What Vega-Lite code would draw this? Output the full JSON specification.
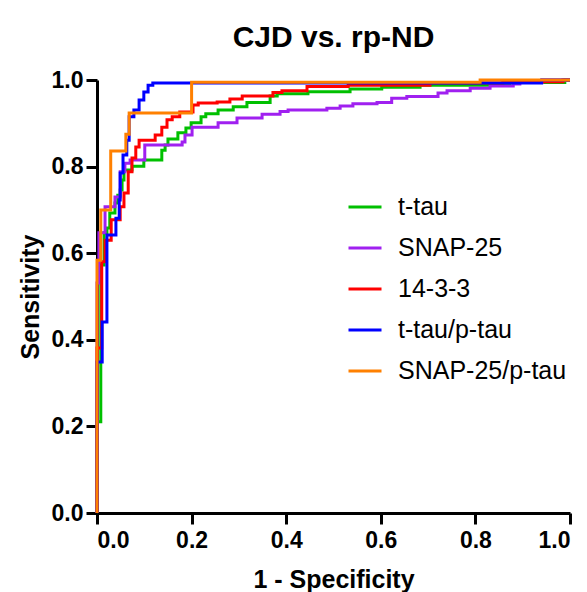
{
  "$schema": "https://vega.github.io/schema/vega-lite/v6.json",
  "autosize": "none",
  "padding": {"left": 97, "top": 80, "right": 17, "bottom": 79},
  "width": 473,
  "height": 433,
  "background": "white",
  "title": {"text": "CJD vs. rp-ND", "fontSize": 30, "font": "Liberation Sans", "fontWeight": "bold", "color": "black", "offset": 16},
  "config": {
    "view": {"stroke": null},
    "axis": {"domainColor": "black", "domainWidth": 3, "tickColor": "black", "tickWidth": 3, "tickSize": 11, "grid": false,
      "labelFont": "Liberation Sans", "labelFontWeight": "bold", "labelFontSize": 23, "labelColor": "black",
      "titleFont": "Liberation Sans", "titleFontWeight": "bold", "titleFontSize": 25, "titleColor": "black"},
    "legend": {"labelFont": "Liberation Sans", "labelFontSize": 25, "labelColor": "black", "labelLimit": 0}
  },
  "data": {"values": [
    {"s": "t-tau", "x": 0, "y": 0}, {"s": "t-tau", "x": 0, "y": 0.211}, {"s": "t-tau", "x": 0.008, "y": 0.573}, {"s": "t-tau", "x": 0.015, "y": 0.647}, {"s": "t-tau", "x": 0.021, "y": 0.658}, {"s": "t-tau", "x": 0.027, "y": 0.693}, {"s": "t-tau", "x": 0.038, "y": 0.716}, {"s": "t-tau", "x": 0.044, "y": 0.734}, {"s": "t-tau", "x": 0.049, "y": 0.746}, {"s": "t-tau", "x": 0.053, "y": 0.769}, {"s": "t-tau", "x": 0.057, "y": 0.792}, {"s": "t-tau", "x": 0.074, "y": 0.801}, {"s": "t-tau", "x": 0.099, "y": 0.815}, {"s": "t-tau", "x": 0.137, "y": 0.838}, {"s": "t-tau", "x": 0.144, "y": 0.85}, {"s": "t-tau", "x": 0.15, "y": 0.864}, {"s": "t-tau", "x": 0.171, "y": 0.878}, {"s": "t-tau", "x": 0.188, "y": 0.889}, {"s": "t-tau", "x": 0.199, "y": 0.901}, {"s": "t-tau", "x": 0.22, "y": 0.915}, {"s": "t-tau", "x": 0.23, "y": 0.922}, {"s": "t-tau", "x": 0.256, "y": 0.931}, {"s": "t-tau", "x": 0.288, "y": 0.938}, {"s": "t-tau", "x": 0.317, "y": 0.948}, {"s": "t-tau", "x": 0.366, "y": 0.963}, {"s": "t-tau", "x": 0.381, "y": 0.968}, {"s": "t-tau", "x": 0.446, "y": 0.973}, {"s": "t-tau", "x": 0.535, "y": 0.979}, {"s": "t-tau", "x": 0.602, "y": 0.983}, {"s": "t-tau", "x": 0.683, "y": 0.988}, {"s": "t-tau", "x": 0.873, "y": 0.994}, {"s": "t-tau", "x": 0.989, "y": 1.0}, {"s": "t-tau", "x": 1, "y": 1},
    {"s": "SNAP-25", "x": 0, "y": 0}, {"s": "SNAP-25", "x": 0, "y": 0.531}, {"s": "SNAP-25", "x": 0.004, "y": 0.647}, {"s": "SNAP-25", "x": 0.017, "y": 0.707}, {"s": "SNAP-25", "x": 0.038, "y": 0.73}, {"s": "SNAP-25", "x": 0.049, "y": 0.788}, {"s": "SNAP-25", "x": 0.059, "y": 0.808}, {"s": "SNAP-25", "x": 0.07, "y": 0.815}, {"s": "SNAP-25", "x": 0.101, "y": 0.85}, {"s": "SNAP-25", "x": 0.18, "y": 0.857}, {"s": "SNAP-25", "x": 0.186, "y": 0.873}, {"s": "SNAP-25", "x": 0.201, "y": 0.891}, {"s": "SNAP-25", "x": 0.256, "y": 0.901}, {"s": "SNAP-25", "x": 0.296, "y": 0.912}, {"s": "SNAP-25", "x": 0.349, "y": 0.921}, {"s": "SNAP-25", "x": 0.387, "y": 0.927}, {"s": "SNAP-25", "x": 0.404, "y": 0.931}, {"s": "SNAP-25", "x": 0.486, "y": 0.935}, {"s": "SNAP-25", "x": 0.514, "y": 0.94}, {"s": "SNAP-25", "x": 0.541, "y": 0.945}, {"s": "SNAP-25", "x": 0.592, "y": 0.948}, {"s": "SNAP-25", "x": 0.623, "y": 0.958}, {"s": "SNAP-25", "x": 0.655, "y": 0.962}, {"s": "SNAP-25", "x": 0.721, "y": 0.97}, {"s": "SNAP-25", "x": 0.74, "y": 0.975}, {"s": "SNAP-25", "x": 0.789, "y": 0.981}, {"s": "SNAP-25", "x": 0.831, "y": 0.986}, {"s": "SNAP-25", "x": 0.88, "y": 0.991}, {"s": "SNAP-25", "x": 0.894, "y": 0.994}, {"s": "SNAP-25", "x": 0.941, "y": 1.0}, {"s": "SNAP-25", "x": 1, "y": 1},
    {"s": "14-3-3", "x": 0, "y": 0}, {"s": "14-3-3", "x": 0, "y": 0.381}, {"s": "14-3-3", "x": 0.01, "y": 0.58}, {"s": "14-3-3", "x": 0.017, "y": 0.63}, {"s": "14-3-3", "x": 0.03, "y": 0.677}, {"s": "14-3-3", "x": 0.049, "y": 0.707}, {"s": "14-3-3", "x": 0.057, "y": 0.739}, {"s": "14-3-3", "x": 0.066, "y": 0.788}, {"s": "14-3-3", "x": 0.074, "y": 0.82}, {"s": "14-3-3", "x": 0.082, "y": 0.845}, {"s": "14-3-3", "x": 0.089, "y": 0.861}, {"s": "14-3-3", "x": 0.123, "y": 0.873}, {"s": "14-3-3", "x": 0.137, "y": 0.891}, {"s": "14-3-3", "x": 0.148, "y": 0.908}, {"s": "14-3-3", "x": 0.159, "y": 0.915}, {"s": "14-3-3", "x": 0.175, "y": 0.926}, {"s": "14-3-3", "x": 0.203, "y": 0.942}, {"s": "14-3-3", "x": 0.214, "y": 0.947}, {"s": "14-3-3", "x": 0.254, "y": 0.949}, {"s": "14-3-3", "x": 0.281, "y": 0.956}, {"s": "14-3-3", "x": 0.307, "y": 0.963}, {"s": "14-3-3", "x": 0.372, "y": 0.971}, {"s": "14-3-3", "x": 0.391, "y": 0.975}, {"s": "14-3-3", "x": 0.444, "y": 0.985}, {"s": "14-3-3", "x": 0.531, "y": 0.988}, {"s": "14-3-3", "x": 0.704, "y": 0.993}, {"s": "14-3-3", "x": 0.858, "y": 0.996}, {"s": "14-3-3", "x": 0.985, "y": 1.0}, {"s": "14-3-3", "x": 1, "y": 1},
    {"s": "t-tau/p-tau", "x": 0, "y": 0}, {"s": "t-tau/p-tau", "x": 0, "y": 0.349}, {"s": "t-tau/p-tau", "x": 0.011, "y": 0.441}, {"s": "t-tau/p-tau", "x": 0.021, "y": 0.642}, {"s": "t-tau/p-tau", "x": 0.04, "y": 0.681}, {"s": "t-tau/p-tau", "x": 0.047, "y": 0.723}, {"s": "t-tau/p-tau", "x": 0.049, "y": 0.785}, {"s": "t-tau/p-tau", "x": 0.055, "y": 0.827}, {"s": "t-tau/p-tau", "x": 0.063, "y": 0.861}, {"s": "t-tau/p-tau", "x": 0.068, "y": 0.915}, {"s": "t-tau/p-tau", "x": 0.078, "y": 0.931}, {"s": "t-tau/p-tau", "x": 0.089, "y": 0.954}, {"s": "t-tau/p-tau", "x": 0.099, "y": 0.972}, {"s": "t-tau/p-tau", "x": 0.108, "y": 0.988}, {"s": "t-tau/p-tau", "x": 0.118, "y": 0.993}, {"s": "t-tau/p-tau", "x": 0.94, "y": 1.0}, {"s": "t-tau/p-tau", "x": 1, "y": 1},
    {"s": "SNAP-25/p-tau", "x": 0, "y": 0}, {"s": "SNAP-25/p-tau", "x": 0, "y": 0.584}, {"s": "SNAP-25/p-tau", "x": 0.008, "y": 0.7}, {"s": "SNAP-25/p-tau", "x": 0.029, "y": 0.836}, {"s": "SNAP-25/p-tau", "x": 0.061, "y": 0.875}, {"s": "SNAP-25/p-tau", "x": 0.068, "y": 0.924}, {"s": "SNAP-25/p-tau", "x": 0.2, "y": 0.995}, {"s": "SNAP-25/p-tau", "x": 0.81, "y": 1.0}, {"s": "SNAP-25/p-tau", "x": 1, "y": 1}
  ]},
  "mark": {"type": "line", "interpolate": "step-after", "strokeWidth": 3, "clip": false},
  "encoding": {
    "x": {"field": "x", "type": "quantitative", "scale": {"domain": [0, 1], "nice": false}, "axis": {"title": "1 - Specificity", "values": [0, 0.2, 0.4, 0.6, 0.8, 1.0], "format": ".1f", "labelPadding": 5, "titlePadding": 15}},
    "y": {"field": "y", "type": "quantitative", "scale": {"domain": [0, 1], "nice": false}, "axis": {"title": "Sensitivity", "values": [0, 0.2, 0.4, 0.6, 0.8, 1.0], "format": ".1f", "labelPadding": 3, "titlePadding": 8}},
    "color": {"field": "s", "type": "nominal", "sort": null,
      "scale": {"domain": ["t-tau", "SNAP-25", "14-3-3", "t-tau/p-tau", "SNAP-25/p-tau"], "range": ["#00C000", "#A020F0", "#FF0000", "#0000FF", "#FF8000"]},
      "legend": {"title": null, "orient": "none", "legendX": 250, "legendY": 109, "symbolType": "stroke", "symbolSize": 1089, "symbolStrokeWidth": 3, "labelOffset": 15, "rowPadding": 10}},
    "order": {"value": null}
  }
}
